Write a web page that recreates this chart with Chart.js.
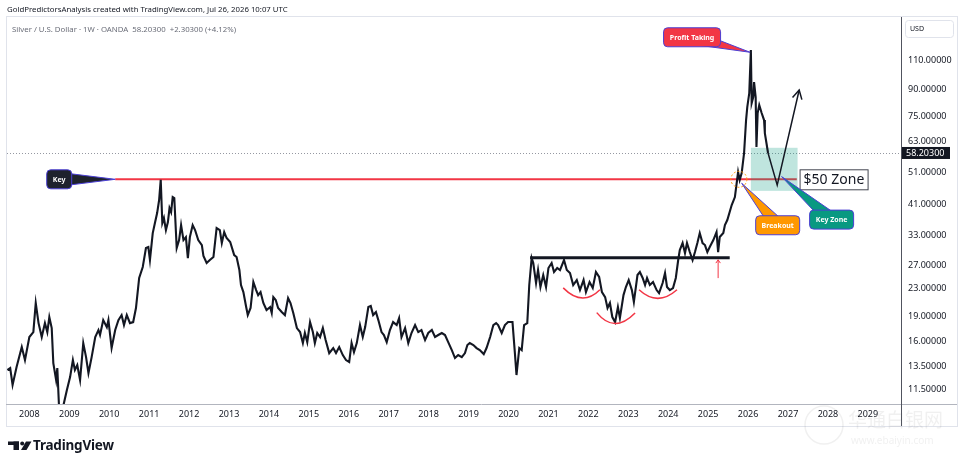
<!DOCTYPE html>
<html>
<head>
<meta charset="utf-8">
<title>Silver / U.S. Dollar 1W</title>
<script src="https://cdn.jsdelivr.net/npm/chart.js@4"></script>
<style>
  body { margin: 0; background: #fff; }
  #wrap { position: relative; width: 964px; height: 466px; overflow: hidden; }
  #silverChart { position: absolute; left: 0; top: 0; }
  .txt { position: absolute; white-space: nowrap; font-family: "Noto Sans", sans-serif; }
  #hdr { left: 7px; top: 4px; font-size: 7.8px; color: #131722; }
  #legend { left: 12px; top: 24px; font-size: 7.8px; color: #6a6d78; }
  #tvname { left: 33px; top: 436px; font-size: 13.5px; font-weight: 700; color: #131722; letter-spacing: -0.2px; }
</style>
</head>
<body>
<div id="wrap">
  <canvas id="silverChart" width="964" height="466"></canvas>
  <div class="txt" id="hdr">GoldPredictorsAnalysis created with TradingView.com, Jul 26, 2026 10:07 UTC</div>
  <div class="txt" id="legend">Silver / U.S. Dollar · 1W · OANDA&nbsp;&nbsp;58.20300&nbsp;&nbsp;+2.30300 (+4.12%)</div>
  <div class="txt" id="tvname">TradingView</div>
</div>
<script>
// weekly closes (decimal years)
const weeks = [
  2007.45, 2007.52, 2007.58, 2007.68, 2007.81, 2007.89, 2008.00, 2008.10, 2008.16, 2008.23,
  2008.31, 2008.39, 2008.45, 2008.50, 2008.56, 2008.60, 2008.67, 2008.70, 2008.75, 2008.85,
  2008.94, 2009.02, 2009.09, 2009.14, 2009.20, 2009.27, 2009.35, 2009.42, 2009.48, 2009.56,
  2009.65, 2009.73, 2009.77, 2009.85, 2009.94, 2009.98, 2010.06, 2010.15, 2010.23, 2010.31,
  2010.37, 2010.44, 2010.52, 2010.60, 2010.67, 2010.75, 2010.84, 2010.92, 2010.98, 2011.02,
  2011.09, 2011.15, 2011.20, 2011.25, 2011.29, 2011.33, 2011.37, 2011.42, 2011.47, 2011.51,
  2011.55, 2011.59, 2011.63, 2011.69, 2011.75, 2011.80, 2011.86, 2011.92, 2011.97, 2012.02,
  2012.09, 2012.15, 2012.23, 2012.32, 2012.36, 2012.44, 2012.52, 2012.61, 2012.69, 2012.77,
  2012.82, 2012.88, 2012.94, 2013.03, 2013.13, 2013.19, 2013.26, 2013.30, 2013.36, 2013.43,
  2013.47, 2013.54, 2013.61, 2013.68, 2013.73, 2013.79, 2013.86, 2013.94, 2014.03, 2014.07,
  2014.11, 2014.17, 2014.23, 2014.32, 2014.40, 2014.48, 2014.54, 2014.61, 2014.70, 2014.78,
  2014.85, 2014.90, 2014.96, 2015.03, 2015.10, 2015.15, 2015.21, 2015.28, 2015.35, 2015.42,
  2015.51, 2015.61, 2015.68, 2015.76, 2015.85, 2015.93, 2016.01, 2016.07, 2016.13, 2016.20,
  2016.28, 2016.35, 2016.41, 2016.49, 2016.55, 2016.61, 2016.68, 2016.74, 2016.82, 2016.88,
  2016.95, 2017.03, 2017.11, 2017.20, 2017.26, 2017.32, 2017.41, 2017.49, 2017.57, 2017.66,
  2017.74, 2017.82, 2017.91, 2017.99, 2018.08, 2018.16, 2018.24, 2018.33, 2018.41, 2018.49,
  2018.58, 2018.66, 2018.74, 2018.83, 2018.91, 2018.97, 2019.03, 2019.12, 2019.20, 2019.28,
  2019.38, 2019.45, 2019.54, 2019.62, 2019.69, 2019.74, 2019.83, 2019.91, 2019.99, 2020.10,
  2020.16, 2020.20, 2020.27, 2020.33, 2020.39, 2020.47, 2020.52, 2020.58, 2020.62, 2020.69,
  2020.74, 2020.80, 2020.87, 2020.94, 2021.00, 2021.08, 2021.14, 2021.22, 2021.29, 2021.39,
  2021.46, 2021.54, 2021.62, 2021.71, 2021.79, 2021.88, 2021.94, 2022.03, 2022.11, 2022.19,
  2022.27, 2022.34, 2022.42, 2022.48, 2022.54, 2022.60, 2022.67, 2022.74, 2022.79, 2022.88,
  2022.94, 2023.01, 2023.09, 2023.14, 2023.23, 2023.29, 2023.36, 2023.42, 2023.47, 2023.54,
  2023.62, 2023.71, 2023.77, 2023.86, 2023.92, 2023.97, 2024.04, 2024.12, 2024.19, 2024.25,
  2024.29, 2024.36, 2024.42, 2024.47, 2024.54, 2024.61, 2024.67, 2024.73, 2024.79, 2024.86,
  2024.92, 2024.98, 2025.04, 2025.13, 2025.21, 2025.25, 2025.29, 2025.38, 2025.42, 2025.48,
  2025.59, 2025.67, 2025.75, 2025.79, 2025.84, 2025.90, 2025.95, 2025.98, 2026.03, 2026.07,
  2026.09, 2026.13, 2026.15, 2026.19, 2026.21, 2026.24, 2026.28, 2026.34, 2026.40, 2026.42,
  2026.46, 2026.50
];
const closes = [
  13.16, 13.34, 11.88, 13.43, 15.40, 14.09, 16.50, 17.07, 20.83, 18.15,
  16.50, 18.15, 17.07, 18.92, 17.54, 13.80, 12.29, 13.34, 9.80, 10.30,
  11.48, 12.54, 14.09, 13.16, 13.62, 12.29, 15.83, 14.38, 12.89, 14.38,
  16.50, 17.31, 16.73, 18.53, 17.66, 18.53, 15.30, 17.31, 18.53, 19.18,
  17.91, 19.18, 18.15, 18.28, 20.13, 24.72, 26.65, 30.35, 30.56, 27.96,
  33.63, 36.27, 38.57, 42.17, 48.40, 36.02, 37.27, 34.33, 36.27, 39.92,
  38.83, 43.04, 42.74, 30.35, 32.06, 35.53, 32.06, 32.72, 28.34, 32.72,
  35.53, 34.33, 32.06, 30.98, 28.73, 27.39, 27.96, 28.54, 34.81, 34.33,
  31.41, 33.86, 32.50, 31.62, 28.93, 28.54, 26.11, 23.56, 22.45, 20.26,
  19.18, 20.13, 24.05, 22.76, 21.99, 22.45, 20.83, 19.85, 20.26, 19.45,
  21.69, 21.26, 20.13, 19.58, 19.18, 21.55, 20.83, 19.45, 17.54, 17.07,
  15.83, 16.96, 15.94, 18.28, 17.07, 15.83, 16.96, 16.50, 17.54, 16.16,
  14.78, 15.30, 14.78, 15.40, 14.58, 14.09, 13.90, 15.83, 14.88, 15.83,
  17.91, 16.50, 17.66, 20.26, 20.40, 19.18, 19.58, 18.53, 17.07, 16.73,
  15.94, 17.31, 18.28, 17.91, 18.79, 16.50, 17.54, 15.83, 16.96, 17.91,
  17.07, 17.31, 16.16, 16.96, 17.31, 16.50, 16.73, 16.96, 16.73, 15.94,
  15.09, 14.29, 14.58, 14.38, 14.78, 15.62, 15.83, 15.62, 15.30, 15.09,
  14.68, 15.30, 16.50, 17.91, 18.15, 17.91, 16.96, 17.91, 18.28, 18.28,
  14.78, 12.72, 15.30, 15.09, 17.91, 18.15, 23.56, 28.34, 27.39, 23.88,
  26.11, 23.24, 25.23, 23.24, 26.47, 27.39, 25.75, 26.47, 26.11, 27.96,
  26.11, 25.58, 23.56, 24.38, 22.76, 24.38, 22.45, 24.05, 23.08, 25.75,
  24.89, 22.45, 21.69, 20.13, 20.83, 18.92, 18.28, 20.26, 18.79, 21.99,
  23.24, 24.38, 22.76, 20.97, 25.23, 25.75, 24.72, 23.56, 24.72, 23.56,
  24.05, 22.76, 22.30, 23.88, 25.58, 23.24, 22.76, 23.08, 24.72, 27.96,
  29.94, 31.41, 29.33, 31.41, 29.53, 27.96, 29.53, 31.41, 33.63, 31.41,
  30.98, 29.53, 30.56, 32.06, 33.86, 29.53, 32.72, 33.63, 35.53, 36.77,
  40.75, 43.04, 51.08, 48.36, 50.73, 58.18, 72.93, 79.72, 87.75, 117.80,
  81.94, 85.38, 94.61, 85.38, 60.62, 76.51, 80.82, 76.51, 72.93, 66.71,
  62.31, 58.203
];
const yearTicks = [2008, 2009, 2010, 2011, 2012, 2013, 2014, 2015, 2016, 2017, 2018,
  2019, 2020, 2021, 2022, 2023, 2024, 2025, 2026, 2027, 2028, 2029];
const priceTicks = [11.5, 13.5, 16, 19, 23, 27, 33, 41, 51, 63, 75, 90, 110];
const lastClose = 58.203;

// drawn levels and shapes, in chart units
const keyLevel = 48.6;
const keyFrom = 2010.15, keyTo = 2027.22;
const necklineLevel = 28.4;
const necklineFrom = 2020.54, necklineTo = 2025.54;
const zoneFrom = 2026.07, zoneTo = 2027.24, zoneTop = 60.3, zoneBottom = 44.9;
const projection = [[2026.50, 58.2], [2026.73, 46.7], [2027.28, 89.6]];
const smiles = [
  [[2021.37, 23.1], [2021.84, 21.55], [2022.29, 22.8]],
  [[2022.21, 19.5], [2022.67, 18.1], [2023.17, 19.45]],
  [[2023.27, 22.8], [2023.74, 21.5], [2024.22, 22.8]]
];
const upArrow = [2025.25, 24.7, 28.0];
const breakoutRing = [2025.77, keyLevel];
const callouts = [
  { text: "Key", year: 2010.15, value: keyLevel, dx: -56, dy: 0, w: 25, h: 19, fill: "#1e222d" },
  { text: "Profit Taking", year: 2026.05, value: 116, dx: -58, dy: -15, w: 57, h: 19, fill: "#f23645" },
  { text: "Breakout", year: 2025.84, value: 47.3, dx: 36, dy: 42, w: 44, h: 19, fill: "#ff9800" },
  { text: "Key Zone", year: 2026.84, value: 49.5, dx: 50, dy: 43, w: 44, h: 19, fill: "#089981" }
];

const font = '"Noto Sans", "DejaVu Sans", sans-serif';

function arrowHead(ctx, fx, fy, tx, ty, len, spread) {
  const a = Math.atan2(ty - fy, tx - fx);
  ctx.beginPath();
  ctx.moveTo(tx - len * Math.cos(a - spread), ty - len * Math.sin(a - spread));
  ctx.lineTo(tx, ty);
  ctx.lineTo(tx - len * Math.cos(a + spread), ty - len * Math.sin(a + spread));
  ctx.stroke();
}

const belowPrice = {
  id: "belowPrice",
  beforeDatasetsDraw(chart) {
    const { ctx, chartArea, scales: { x, y } } = chart;
    ctx.save();
    // dotted last price line
    const yl = Math.round(y.getPixelForValue(lastClose)) + 0.5;
    ctx.strokeStyle = "#9598a1";
    ctx.lineWidth = 1;
    ctx.setLineDash([1, 2]);
    ctx.beginPath();
    ctx.moveTo(chartArea.left, yl);
    ctx.lineTo(chartArea.right, yl);
    ctx.stroke();
    ctx.setLineDash([]);

    // key level
    const yk = y.getPixelForValue(keyLevel);
    ctx.strokeStyle = "#f23645";
    ctx.lineWidth = 2;
    ctx.beginPath();
    ctx.moveTo(x.getPixelForValue(keyFrom), yk);
    ctx.lineTo(x.getPixelForValue(keyTo), yk);
    ctx.stroke();

    // support zone
    const zx0 = x.getPixelForValue(zoneFrom), zx1 = x.getPixelForValue(zoneTo);
    const zy0 = y.getPixelForValue(zoneTop), zy1 = y.getPixelForValue(zoneBottom);
    ctx.fillStyle = "rgba(8,153,129,0.26)";
    ctx.fillRect(zx0, zy0, zx1 - zx0, zy1 - zy0);

    // neckline
    const yn = y.getPixelForValue(necklineLevel);
    ctx.strokeStyle = "#131722";
    ctx.lineWidth = 3;
    ctx.beginPath();
    ctx.moveTo(x.getPixelForValue(necklineFrom), yn);
    ctx.lineTo(x.getPixelForValue(necklineTo), yn);
    ctx.stroke();
    ctx.restore();
  }
};

const abovePrice = {
  id: "abovePrice",
  afterDatasetsDraw(chart) {
    const { ctx, scales: { x, y } } = chart;
    ctx.save();

    // shoulders and head
    ctx.strokeStyle = "#f23645";
    ctx.lineWidth = 1.5;
    smiles.forEach(([a, b, c]) => {
      const ax = x.getPixelForValue(a[0]), ay = y.getPixelForValue(a[1]);
      const bx = x.getPixelForValue(b[0]), by = y.getPixelForValue(b[1]);
      const cx = x.getPixelForValue(c[0]), cy = y.getPixelForValue(c[1]);
      ctx.beginPath();
      ctx.moveTo(ax, ay);
      ctx.quadraticCurveTo(2 * bx - (ax + cx) / 2, 2 * by - (ay + cy) / 2, cx, cy);
      ctx.stroke();
    });

    // small up arrow under the neckline
    const ux = x.getPixelForValue(upArrow[0]);
    const uy0 = y.getPixelForValue(upArrow[1]), uy1 = y.getPixelForValue(upArrow[2]);
    ctx.lineWidth = 1;
    ctx.beginPath();
    ctx.moveTo(ux, uy0);
    ctx.lineTo(ux, uy1);
    ctx.stroke();
    arrowHead(ctx, ux, uy0, ux, uy1, 4, 0.6);

    // breakout ring
    ctx.strokeStyle = "#ff9800";
    ctx.setLineDash([2, 2]);
    ctx.beginPath();
    ctx.arc(x.getPixelForValue(breakoutRing[0]), y.getPixelForValue(breakoutRing[1]), 8, 0, Math.PI * 2);
    ctx.stroke();
    ctx.setLineDash([]);

    // projected path
    const pts = projection.map(p => [x.getPixelForValue(p[0]), y.getPixelForValue(p[1])]);
    ctx.strokeStyle = "#131722";
    ctx.lineWidth = 1.5;
    ctx.beginPath();
    pts.forEach((p, i) => (i ? ctx.lineTo(p[0], p[1]) : ctx.moveTo(p[0], p[1])));
    ctx.stroke();
    const n = pts.length;
    arrowHead(ctx, pts[n - 2][0], pts[n - 2][1], pts[n - 1][0], pts[n - 1][1], 10, 0.5);

    // $50 zone label
    const lx = x.getPixelForValue(zoneTo) + 2;
    const ly = y.getPixelForValue(keyLevel);
    ctx.fillStyle = "#fff";
    ctx.fillRect(lx, ly - 10, 69, 21);
    ctx.strokeStyle = "#434651";
    ctx.lineWidth = 1;
    ctx.strokeRect(lx + 0.5, ly - 9.5, 68, 20);
    ctx.fillStyle = "#131722";
    ctx.font = "14px " + font;
    ctx.textBaseline = "middle";
    ctx.textAlign = "left";
    ctx.fillText("$50 Zone", lx + 4, ly + 1);

    // callouts
    callouts.forEach(c => {
      const tx = x.getPixelForValue(c.year), ty = y.getPixelForValue(c.value);
      const cx = tx + c.dx, cy = ty + c.dy;
      const a = Math.atan2(ty - cy, tx - cx);
      const hw = 7;
      const nx = -Math.sin(a) * hw, ny = Math.cos(a) * hw;
      ctx.fillStyle = c.fill;
      ctx.strokeStyle = "#4b3fd4";
      ctx.lineWidth = 1;
      ctx.beginPath();
      ctx.moveTo(cx + nx, cy + ny);
      ctx.lineTo(tx, ty);
      ctx.lineTo(cx - nx, cy - ny);
      ctx.closePath();
      ctx.fill();
      ctx.stroke();
      ctx.beginPath();
      ctx.roundRect(cx - c.w / 2, cy - c.h / 2, c.w, c.h, 4);
      ctx.fill();
      ctx.stroke();
      ctx.fillStyle = "#fff";
      ctx.font = "bold 7px " + font;
      ctx.textAlign = "center";
      ctx.fillText(c.text, cx, cy + 0.5);
    });
    ctx.restore();
  }
};

const frame = {
  id: "frame",
  afterDraw(chart) {
    const { ctx, chartArea, scales: { y } } = chart;
    const r = chartArea.right, b = chartArea.bottom;
    ctx.save();
    ctx.strokeStyle = "#e0e3eb";
    ctx.lineWidth = 1;
    ctx.strokeRect(6.5, 16.5, 951, 410);
    ctx.strokeStyle = "#b2b5be";
    ctx.beginPath();
    ctx.moveTo(6, b + 0.5);
    ctx.lineTo(957, b + 0.5);
    ctx.stroke();
    ctx.strokeStyle = "#50535e";
    ctx.beginPath();
    ctx.moveTo(r + 0.5, 17);
    ctx.lineTo(r + 0.5, 426);
    ctx.stroke();

    // last price tag
    const yl = y.getPixelForValue(lastClose);
    ctx.fillStyle = "#131722";
    ctx.fillRect(r + 1, yl - 6, 48, 12);
    ctx.fillStyle = "#fff";
    ctx.font = "9px " + font;
    ctx.textBaseline = "middle";
    ctx.fillText(lastClose.toFixed(5), r + 5, yl + 0.5);

    // currency box
    ctx.strokeStyle = "#e0e3eb";
    ctx.beginPath();
    ctx.roundRect(r + 4.5, 20.5, 48, 17, 3);
    ctx.stroke();
    ctx.fillStyle = "#131722";
    ctx.font = "7px " + font;
    ctx.fillText("USD", r + 9, 29);

    // logo mark
    ctx.fillStyle = "#131722";
    ctx.fillRect(8, 441.5, 11, 3.5);
    ctx.fillRect(13.5, 441.5, 5.5, 8.5);
    ctx.beginPath();
    ctx.arc(22.2, 443.4, 2, 0, Math.PI * 2);
    ctx.fill();
    ctx.beginPath();
    ctx.moveTo(26, 441.5);
    ctx.lineTo(31.5, 441.5);
    ctx.lineTo(26.5, 450);
    ctx.lineTo(21, 450);
    ctx.closePath();
    ctx.fill();

    // watermark
    ctx.fillStyle = "rgba(110,110,110,0.1)";
    ctx.strokeStyle = "rgba(110,110,110,0.1)";
    ctx.lineWidth = 1.5;
    ctx.beginPath();
    ctx.arc(824, 425, 19, 0, Math.PI * 2);
    ctx.stroke();
    ctx.font = '19px "Noto Sans CJK SC", sans-serif';
    ctx.fillText("华通白银网", 848, 420);
    ctx.font = "10px " + font;
    ctx.fillText("www.ebaiyin.com", 851, 441);
    ctx.restore();
  }
};

new Chart(document.getElementById("silverChart"), {
  type: "line",
  data: {
    datasets: [{
      label: "XAGUSD",
      data: weeks.map((w, i) => ({ x: w, y: closes[i] })),
      borderColor: "#131722",
      borderWidth: 2.1,
      pointRadius: 0,
      tension: 0
    }]
  },
  options: {
    responsive: false,
    animation: false,
    devicePixelRatio: 1,
    layout: { padding: { left: 7, top: 17, right: 0, bottom: 0 } },
    plugins: { legend: { display: false }, tooltip: { enabled: false } },
    scales: {
      x: {
        type: "linear",
        min: 2007.44,
        max: 2029.83,
        grid: { display: false, drawTicks: false },
        border: { display: false },
        afterBuildTicks: s => { s.ticks = yearTicks.map(v => ({ value: v })); },
        afterFit: s => { s.height = 62; },
        ticks: {
          autoSkip: false,
          maxRotation: 0,
          padding: 5,
          color: "#131722",
          font: { family: font, size: 9 },
          callback: v => String(v)
        }
      },
      y: {
        type: "logarithmic",
        position: "right",
        min: 10.43,
        max: 147.7,
        grid: { display: false, drawTicks: false },
        border: { display: false },
        afterBuildTicks: s => { s.ticks = priceTicks.map(v => ({ value: v })); },
        afterFit: s => { s.width = 63; },
        ticks: {
          autoSkip: false,
          padding: 7,
          color: "#131722",
          font: { family: font, size: 9 },
          callback: v => Number(v).toFixed(5)
        }
      }
    }
  },
  plugins: [belowPrice, abovePrice, frame]
});
</script>
</body>
</html>
